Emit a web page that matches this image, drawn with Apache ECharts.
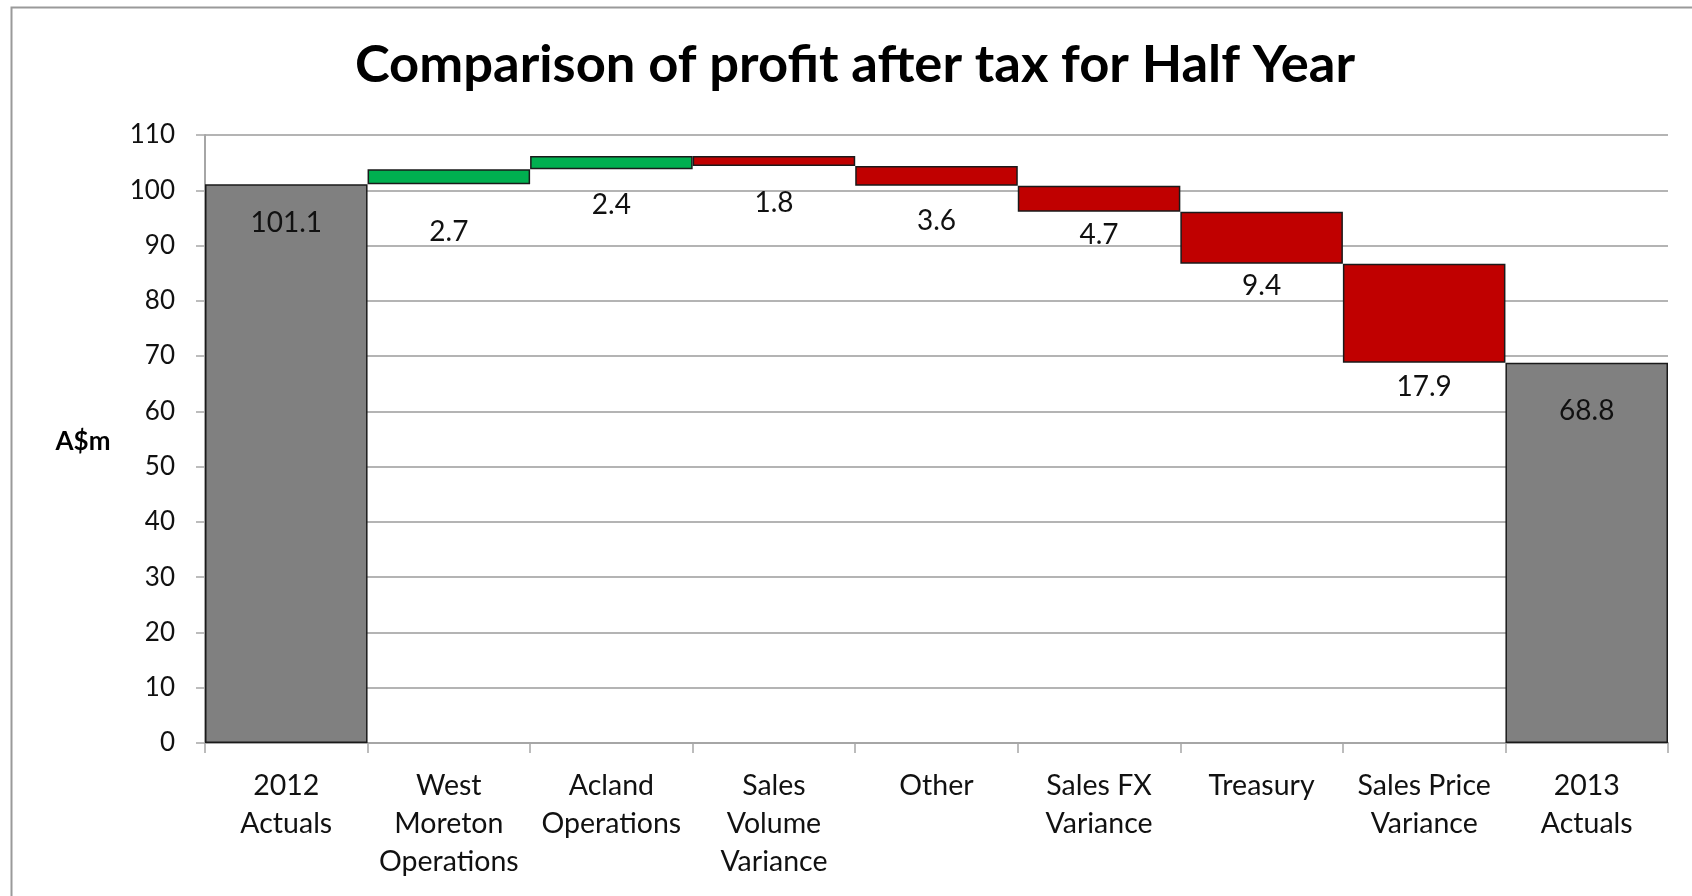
<!DOCTYPE html>
<html>
<head>
<meta charset="utf-8">
<script src="https://cdn.jsdelivr.net/npm/echarts@6/dist/echarts.min.js"></script>
<style>
html,body{margin:0;padding:0;background:#fff;}
#chart{width:1692px;height:896px;}
</style>
</head>
<body>
<div id="chart"></div>
<script>
// ---- data ----
const categories = ['2012\nActuals', 'West\nMoreton\nOperations', 'Acland\nOperations', 'Sales\nVolume\nVariance', 'Other', 'Sales FX\nVariance', 'Treasury', 'Sales Price\nVariance', '2013\nActuals'];
const openingTotal = 101.1;
const changes = [2.7, 2.4, -1.8, -3.6, -4.7, -9.4, -17.9];
const closingTotal = 68.8;
const yMin = 0, yMax = 110, yStep = 10;
const titleText = 'Comparison of profit after tax for Half Year';
const yAxisTitle = 'A$m';

// ---- styles ----
const colorTotal = '#808080', colorUp = '#00b050', colorDown = '#c00000';
const labelGap = [25, 34, 22, 23, 21, 9, 8, 10, 34]; // label distance from bar edge (px)

// ---- build waterfall from data ----
const baseData = [0];
const barData = [];
barData.push({ value: openingTotal, kind: 'total', shown: openingTotal });
let running = openingTotal;
changes.forEach(function (c) {
  const next = running + c;
  baseData.push(+Math.min(running, next).toFixed(4));
  barData.push({ value: +Math.abs(c).toFixed(4), kind: c >= 0 ? 'up' : 'down', shown: Math.abs(c) });
  running = next;
});
baseData.push(0);
barData.push({ value: closingTotal, kind: 'total', shown: closingTotal });

const labelFont = 'Lato, "Open Sans", sans-serif';

const visibleData = barData.map(function (d, i) {
  const isTotal = d.kind === 'total';
  return {
    value: d.value,
    itemStyle: {
      color: isTotal ? colorTotal : (d.kind === 'up' ? colorUp : colorDown),
      borderColor: '#1a1a1a',
      borderWidth: 1.5
    },
    label: {
      show: true,
      position: isTotal ? 'insideTop' : 'bottom',
      distance: labelGap[i],
      formatter: d.shown.toFixed(1),
      fontFamily: labelFont,
      fontSize: 28,
      color: '#111'
    }
  };
});

const chart = echarts.init(document.getElementById('chart'), null, { renderer: 'canvas' });
chart.setOption({
  backgroundColor: '#ffffff',
  animation: false,
  title: {
    text: titleText,
    left: 855,
    textAlign: 'center',
    top: 39,
    padding: 0,
    textStyle: { fontFamily: labelFont, fontWeight: 'bold', fontSize: 52.5, color: '#000' }
  },
  graphic: [
    { type: 'rect', left: 9, top: 5, shape: { width: 1700, height: 900 }, style: { fill: 'none', stroke: '#9a9a9a', lineWidth: 2 }, silent: true, z: -1 },
    { type: 'text', x: 83, y: 442, style: { text: yAxisTitle, textAlign: 'center', textVerticalAlign: 'middle', fontFamily: labelFont, fontWeight: 'bold', fontSize: 26, fill: '#000' } }
  ],
  grid: { left: 205, right: 24, top: 135, bottom: 153, containLabel: false },
  xAxis: {
    type: 'category',
    data: categories,
    boundaryGap: true,
    axisLine: { show: true, lineStyle: { color: '#a6a6a6', width: 2 } },
    axisTick: { show: true, length: 10, lineStyle: { color: '#a6a6a6', width: 1.5 } },
    axisLabel: { interval: 0, margin: 24, fontFamily: labelFont, fontSize: 28.5, lineHeight: 38, color: '#111' },
    splitLine: { show: false }
  },
  yAxis: {
    type: 'value',
    min: yMin, max: yMax, interval: yStep,
    axisLine: { show: true, lineStyle: { color: '#a6a6a6', width: 2 } },
    axisTick: { show: true, length: 9, lineStyle: { color: '#a6a6a6', width: 1.5 } },
    axisLabel: { margin: 30, fontFamily: labelFont, fontSize: 26, color: '#111' },
    splitLine: { show: true, lineStyle: { color: '#b4b4b4', width: 2 } }
  },
  series: [
    {
      type: 'bar', stack: 'wf', data: baseData, barWidth: '100%',
      itemStyle: { color: 'rgba(0,0,0,0)', borderWidth: 0 },
      emphasis: { disabled: true }, silent: true
    },
    {
      type: 'bar', stack: 'wf', data: visibleData, barWidth: '100%',
      emphasis: { disabled: true }
    }
  ]
});
</script>
</body>
</html>
